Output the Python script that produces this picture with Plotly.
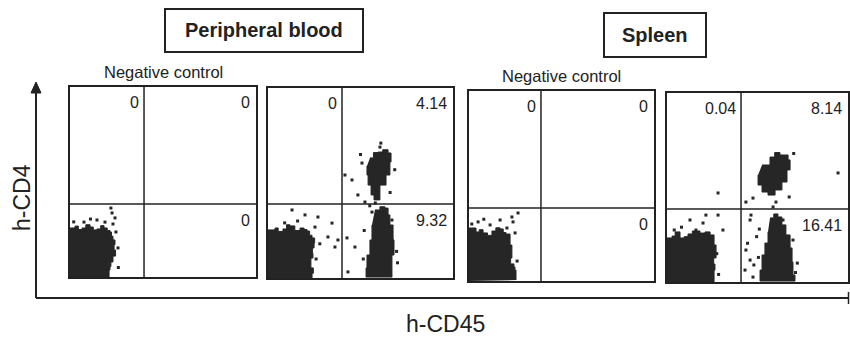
import plotly.graph_objects as go

# ---------------- data (flow cytometry dot plots, 0-100 channel scale) ----------------
panel_titles = ["Negative control", "", "Negative control", ""]
group_titles = ["Peripheral blood", "Spleen"]
x_axis_label = "h-CD45"
y_axis_label = "h-CD4"

# quadrant gates (x gate, y gate) per panel
gate_x = [39.8, 40.0, 38.9, 40.9]
gate_y = [38.4, 38.9, 38.4, 38.6]

# quadrant percentages per panel: upper-left, upper-right, lower-right
pct_ul = ["0", "0", "0", "0.04"]
pct_ur = ["0", "4.14", "0", "8.14"]
pct_lr = ["0", "9.32", "0", "16.41"]

# dense populations (outlines of the dark clouds)
p1_ll_x = [0, 0, 2.7, 4.5, 6.5, 8.5, 10.8, 12.5, 14.5, 16.5, 18.3, 20.0, 21.5, 22.3, 23.1, 24.2, 23.7, 24.5, 23.1, 22.0, 21.5, 21.0]
p1_ll_y = [0, 25.8, 26.8, 25.0, 25.8, 27.5, 26.3, 24.8, 25.3, 27.0, 25.8, 24.5, 23.7, 21.5, 19.5, 17.0, 14.2, 11.0, 7.9, 5.5, 3.7, 0]

p2_ll_x = [0, 0, 3.8, 5.5, 8.1, 10.0, 11.9, 14.5, 17.3, 19.5, 21.1, 22.5, 23.8, 25.2, 24.9, 24.0, 24.3, 23.2, 24.5, 23.8]
p2_ll_y = [0, 25.3, 26.3, 24.5, 25.8, 28.0, 27.4, 25.0, 26.3, 25.5, 24.7, 22.5, 21.1, 18.5, 15.8, 13.0, 10.5, 5.3, 2.5, 0]
p2_lr_x = [57.8, 60.5, 63.2, 64.9, 65.9, 67.6, 68.1, 67.0, 67.0, 54.1, 53.0, 53.5, 55.1, 56.2]
p2_lr_y = [35.8, 37.5, 36.8, 33.2, 27.9, 20.0, 12.1, 5.3, 0.5, 0.5, 5.3, 12.1, 20.0, 27.9]
p2_ur_x = [55.1, 57.0, 59.5, 62.0, 64.9, 66.5, 65.9, 63.8, 60.5, 57.3, 55.7, 54.1, 53.5]
p2_ur_y = [63.2, 66.0, 66.3, 67.5, 65.8, 61.1, 54.2, 48.9, 41.1, 43.7, 48.9, 54.2, 58.9]

p3_ll_x = [0, 0, 3.8, 5.5, 7.6, 10.0, 12.4, 14.5, 16.8, 18.5, 20.0, 22.2, 23.2, 22.5, 24.3, 25.4]
p3_ll_y = [0, 27.9, 25.8, 27.0, 25.3, 24.0, 26.3, 28.0, 27.4, 25.5, 24.7, 18.9, 12.1, 9.0, 5.8, 0.5]

p4_ll_x = [0, 0, 2.8, 4.5, 7.2, 9.5, 11.6, 14.0, 18.2, 21.0, 23.8, 26.0, 27.1, 25.8, 26.5, 26.0]
p4_ll_y = [0, 23.3, 24.3, 26.5, 23.3, 24.0, 25.4, 27.0, 25.9, 26.5, 24.9, 19.6, 12.7, 9.5, 6.3, 0]
p4_lr_x = [56.9, 59.0, 61.3, 63.5, 65.7, 68.0, 69.1, 69.6, 70.7, 52.5, 51.4, 52.5, 54.1, 55.8]
p4_lr_y = [33.9, 36.0, 34.4, 30.2, 24.9, 18.0, 10.6, 3.7, 0.5, 0.5, 6.3, 14.3, 20.6, 26.5]
p4_ur_x = [52.5, 56.9, 59.5, 62.4, 66.9, 68.0, 66.3, 63.5, 59.7, 55.8, 52.5, 50.3]
p4_ur_y = [61.9, 66.1, 68.5, 67.2, 64.6, 59.3, 52.9, 48.7, 46.0, 47.6, 51.3, 56.6]

# sparse events
p1_dots_x = [22.0, 22.6, 24.2, 14.5, 7.5, 18.8, 25.8, 24.7, 23.1, 2.0, 11.0, 26.0]
p1_dots_y = [36.3, 33.7, 31.1, 30.0, 28.9, 28.9, 15.3, 23.7, 27.9, 29.0, 30.5, 5.0]

p2_dots_x = [60.5, 50.8, 45.4, 41.6, 48.6, 52.4, 56.2, 47.0, 42.7, 43.2, 67.0, 67.0,
             36.2, 34.6, 27.0, 13.0, 20.0, 25.4, 32.4, 37.8, 3.8, 58.0, 61.0, 68.5, 50.0,
             52.0, 51.5, 69.5, 70.0, 66.0, 55.0, 9.0, 16.0, 26.0, 28.0]
p2_dots_y = [68.9, 60.5, 51.6, 54.2, 43.7, 40.0, 34.7, 16.3, 21.1, 3.2, 30.5, 20.0,
             16.3, 28.9, 32.1, 35.8, 33.2, 26.8, 21.6, 20.0, 2.6, 39.5, 71.0, 57.0, 65.0,
             25.0, 10.0, 14.0, 8.0, 45.0, 38.0, 29.0, 30.0, 10.0, 18.0]

p3_dots_x = [26.5, 23.2, 23.8, 16.8, 11.4, 4.9, 20.5, 24.9, 24.3, 26.0, 8.0, 1.5]
p3_dots_y = [35.8, 33.7, 31.1, 32.1, 29.5, 31.1, 27.9, 25.3, 6.8, 10.5, 32.5, 30.0]

p4_dots_x = [94.5, 28.2, 43.6, 47.5, 58.6, 60.2, 46.4, 45.9, 12.7, 21.5, 28.2, 19.9,
             30.9, 16.0, 43.6, 45.9, 43.1, 47.5, 66.9, 69.6, 64.1, 23.8, 49.5, 48.0, 70.0,
             27.5, 28.5, 44.5, 50.5, 72.0, 71.0, 51.0, 67.5, 8.0, 4.0]
p4_dots_y = [57.7, 47.1, 42.3, 44.4, 39.7, 42.3, 35.4, 32.8, 32.8, 35.4, 35.4, 31.2,
             27.5, 27.5, 16.9, 11.6, 6.3, 2.6, 16.9, 22.2, 32.8, 7.9, 24.0, 9.0, 68.0,
             15.0, 4.0, 20.5, 13.0, 10.0, 5.0, 28.0, 45.0, 29.0, 27.5]

populations = [
    [(p1_ll_x, p1_ll_y)],
    [(p2_ll_x, p2_ll_y), (p2_lr_x, p2_lr_y), (p2_ur_x, p2_ur_y)],
    [(p3_ll_x, p3_ll_y)],
    [(p4_ll_x, p4_ll_y), (p4_lr_x, p4_lr_y), (p4_ur_x, p4_ur_y)],
]
dots = [(p1_dots_x, p1_dots_y), (p2_dots_x, p2_dots_y),
        (p3_dots_x, p3_dots_y), (p4_dots_x, p4_dots_y)]

# ---------------- layout geometry (pixels) ----------------
W, H = 850, 337
panel_px = [(70, 256, 87, 277), (268, 453, 88, 278), (469, 654, 91, 281), (667, 848, 93, 282)]
INK = "#222222"
FONT = "Liberation Sans, Arial, sans-serif"

def px(x):
    return x / W

def py(y):
    return 1 - y / H

fig = go.Figure()
layout = dict(
    width=W, height=H, margin=dict(l=0, r=0, t=0, b=0),
    paper_bgcolor="white", plot_bgcolor="white", showlegend=False,
    font=dict(family=FONT, color=INK),
)
shapes = []
annotations = []

for i in range(4):
    n = i + 1
    sfx = "" if n == 1 else str(n)
    xa, ya = f"x{sfx}", f"y{sfx}"
    l, r, t, b = panel_px[i]
    axis_common = dict(range=[0, 100], showline=True, mirror=True, linewidth=2,
                       linecolor=INK, showticklabels=False, ticks="", showgrid=False,
                       zeroline=False, fixedrange=True)
    layout[f"xaxis{sfx}"] = dict(domain=[px(l), px(r)], anchor=ya, **axis_common)
    layout[f"yaxis{sfx}"] = dict(domain=[py(b), py(t)], anchor=xa, **axis_common)

    for (xs, ys) in populations[i]:
        fig.add_trace(go.Scatter(x=xs, y=ys, xaxis=xa, yaxis=ya, mode="lines",
                                 fill="toself", fillcolor="#262626",
                                 line=dict(color="#262626", width=1, shape="hv"),
                                 hoverinfo="skip"))
    dx, dy = dots[i]
    fig.add_trace(go.Scatter(x=dx, y=dy, xaxis=xa, yaxis=ya, mode="markers",
                             marker=dict(symbol="square", size=3, color="#262626"),
                             hoverinfo="skip"))

    # quadrant gates
    shapes.append(dict(type="line", xref=xa, yref=f"{ya} domain", x0=gate_x[i], x1=gate_x[i],
                       y0=0, y1=1, line=dict(color=INK, width=1.5)))
    shapes.append(dict(type="line", xref=f"{xa} domain", yref=ya, x0=0, x1=1,
                       y0=gate_y[i], y1=gate_y[i], line=dict(color=INK, width=1.5)))

    num_font = dict(size=16, color=INK, family=FONT)
    annotations.append(dict(x=gate_x[i] - 1.8, y=97.5, xref=xa, yref=ya, text=pct_ul[i],
                            showarrow=False, xanchor="right", yanchor="top", font=num_font))
    annotations.append(dict(x=97.8, y=97.5, xref=xa, yref=ya, text=pct_ur[i],
                            showarrow=False, xanchor="right", yanchor="top", font=num_font))
    annotations.append(dict(x=97.8, y=gate_y[i] - 3.0, xref=xa, yref=ya, text=pct_lr[i],
                            showarrow=False, xanchor="right", yanchor="top", font=num_font))

    if panel_titles[i]:
        annotations.append(dict(x=px((l + r) / 2), y=py(t - 15),
                                xref="paper", yref="paper", text=panel_titles[i], showarrow=False,
                                xanchor="center", yanchor="middle",
                                font=dict(size=16.5, color=INK, family=FONT)))

# group title boxes
title_boxes = [(165, 363, 9, 52), (604, 706, 13, 57)]
for k, (l, r, t, b) in enumerate(title_boxes):
    shapes.append(dict(type="rect", xref="paper", yref="paper", x0=px(l), x1=px(r),
                       y0=py(b), y1=py(t), line=dict(color=INK, width=2)))
    annotations.append(dict(x=px((l + r) / 2), y=py((t + b) / 2), xref="paper", yref="paper",
                            text=f"<b>{group_titles[k]}</b>", showarrow=False,
                            xanchor="center", yanchor="middle",
                            font=dict(size=20, color=INK, family=FONT)))

# big L-shaped axes with arrow
shapes.append(dict(type="line", xref="paper", yref="paper", x0=px(36), x1=px(36),
                   y0=py(298), y1=py(90), line=dict(color=INK, width=2)))
shapes.append(dict(type="path", xref="paper", yref="paper",
                   path=f"M {px(31)},{py(93)} L {px(36)},{py(82)} L {px(41)},{py(93)} Z",
                   fillcolor=INK, line=dict(color=INK, width=1)))
shapes.append(dict(type="line", xref="paper", yref="paper", x0=px(36), x1=px(849),
                   y0=py(298), y1=py(298), line=dict(color=INK, width=2)))
shapes.append(dict(type="line", xref="paper", yref="paper", x0=px(848.5), x1=px(848.5),
                   y0=py(292), y1=py(304), line=dict(color=INK, width=1.5)))

annotations.append(dict(x=px(446), y=py(324), xref="paper", yref="paper", text=x_axis_label,
                        showarrow=False, xanchor="center", yanchor="middle",
                        font=dict(size=23, color=INK, family=FONT)))
annotations.append(dict(x=px(22), y=py(198), xref="paper", yref="paper", text=y_axis_label,
                        showarrow=False, xanchor="center", yanchor="middle", textangle=-90,
                        font=dict(size=23, color=INK, family=FONT)))

layout["shapes"] = shapes
layout["annotations"] = annotations
fig.update_layout(**layout)
fig.write_html("out.html", config={"displayModeBar": False},
               post_script="document.body.style.margin='0px';")
